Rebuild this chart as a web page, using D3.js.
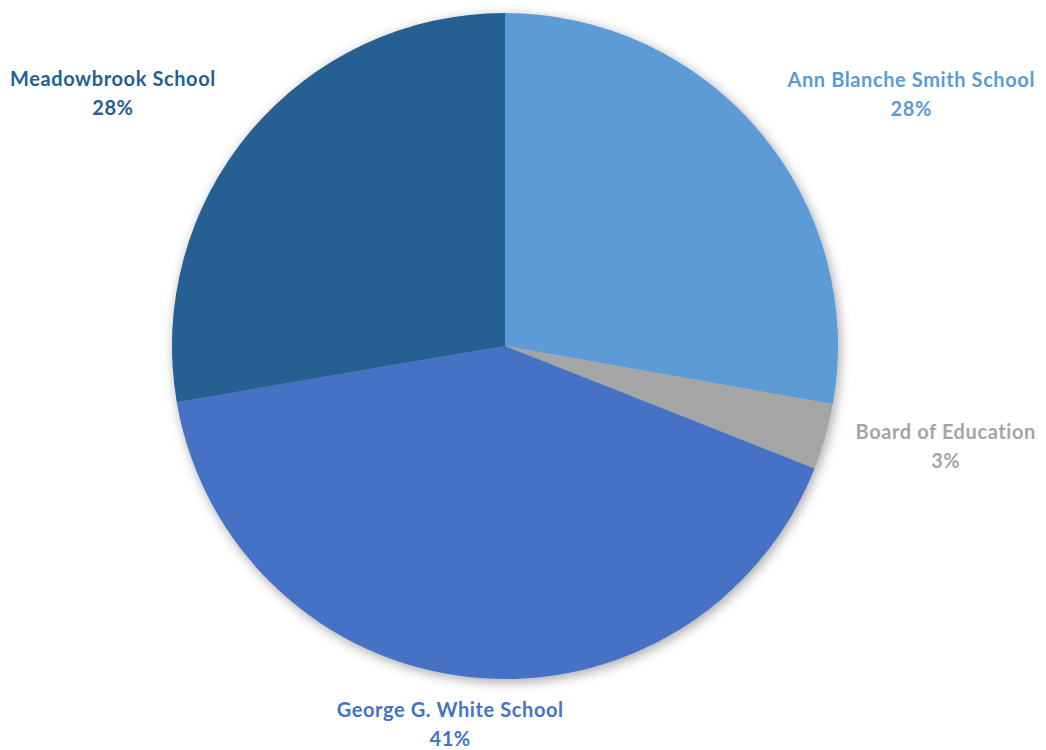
<!DOCTYPE html>
<html>
<head>
<meta charset="utf-8">
<script src="https://cdn.jsdelivr.net/npm/d3@7"></script>
<style>
  body { margin: 0; background: #fff; }
  text { font-family: Lato, "Open Sans", sans-serif; font-weight: 700; }
</style>
</head>
<body>
<div id="chart"></div>
<script>
// slice data, clockwise from 12 o'clock
const schools = ["Ann Blanche Smith School", "Board of Education", "George G. White School", "Meadowbrook School"];
const shares = [27.8, 3.2, 41.3, 27.7];
const sliceColors = ["#5B9BD5", "#A5A5A5", "#4472C4", "#255E91"];

const width = 1046, height = 750;
const cx = 505, cy = 346, radius = 333;
const labelRx = 530, labelRy = 385;

const svg = d3.select("#chart")
    .append("svg")
    .attr("width", width)
    .attr("height", height);

// soft shadow round the pie
const filter = svg.append("defs").append("filter")
    .attr("id", "shadow")
    .attr("x", "-20%").attr("y", "-20%")
    .attr("width", "140%").attr("height", "140%");
filter.append("feDropShadow")
    .attr("dx", 2).attr("dy", 3)
    .attr("stdDeviation", 6)
    .attr("flood-color", "#000")
    .attr("flood-opacity", 0.35);

const pie = d3.pie().sort(null).value(d => d);
const arcs = pie(shares);
const arc = d3.arc().innerRadius(0).outerRadius(radius);

const g = svg.append("g")
    .attr("transform", `translate(${cx}, ${cy})`);

g.append("g")
    .attr("filter", "url(#shadow)")
    .selectAll("path")
    .data(arcs)
    .enter()
    .append("path")
    .attr("d", arc)
    .attr("fill", (d, i) => sliceColors[i]);

const total = d3.sum(shares);
const fmt = v => Math.round(v / total * 100) + "%";

// labels outside the slices
const labels = svg.append("g")
    .selectAll("text")
    .data(arcs)
    .enter()
    .append("text")
    .attr("text-anchor", "middle")
    .style("font-size", "20px")
    .style("letter-spacing", "0.6px")
    .attr("fill", (d, i) => sliceColors[i]);

labels.append("tspan").attr("class", "name").attr("x", 0).attr("y", 0)
    .text((d, i) => schools[i]);
labels.append("tspan").attr("class", "pct").attr("x", 0).attr("y", 29)
    .text(d => fmt(d.value));

labels.each(function (d) {
    const t = d3.select(this);
    const w = this.getBBox().width;
    const mid = (d.startAngle + d.endAngle) / 2;
    let x = cx + labelRx * Math.sin(mid);
    let y = cy - labelRy * Math.cos(mid);
    x = Math.max(w / 2 + 10, Math.min(width - w / 2 - 10, x));
    y = Math.min(height - 20, y);
    t.select(".name").attr("x", x).attr("y", y - 12);
    t.select(".pct").attr("x", x).attr("y", y + 17);
});
</script>
</body>
</html>
